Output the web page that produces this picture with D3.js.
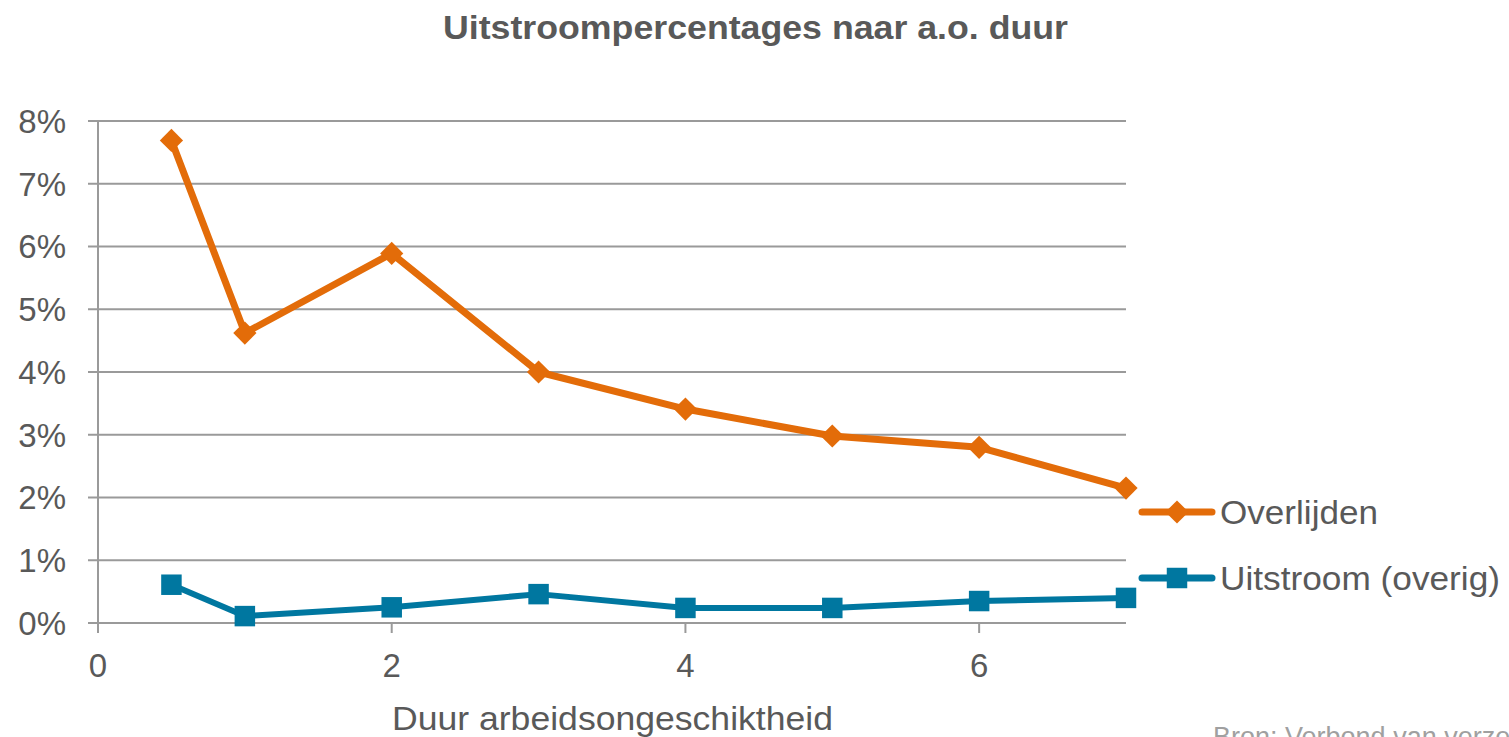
<!DOCTYPE html>
<html><head><meta charset="utf-8">
<script src="https://cdn.jsdelivr.net/npm/d3@7"></script>
<style>body{margin:0;background:#fff;overflow:hidden}svg{display:block}text{font-family:"Liberation Sans",Arial,sans-serif}</style>
</head><body>
<script>
const xValues = [0.5, 1, 2, 3, 4, 5, 6, 7];
const overlijden = [7.69, 4.62, 5.89, 4.0, 3.41, 2.98, 2.80, 2.15];
const uitstroom = [0.61, 0.11, 0.25, 0.46, 0.24, 0.24, 0.35, 0.40];
const yTicks = [0, 1, 2, 3, 4, 5, 6, 7, 8];
const xTicks = [0, 2, 4, 6];
const seriesNames = ["Overlijden", "Uitstroom (overig)"];
const title = "Uitstroompercentages naar a.o. duur";
const xTitle = "Duur arbeidsongeschiktheid";
const source = "Bron: Verbond van verzekeraars";

const W = 1509, H = 737;
const svg = d3.select("body").append("svg").attr("width", W).attr("height", H);
const x = d3.scaleLinear().domain([0, 7]).range([98, 1126]);
const y = d3.scaleLinear().domain([0, 8]).range([623, 121]);
const grid = "#9a9a9a", txt = "#595959";
const orange = "#e36c09", blue = "#0077a0";

svg.append("g").selectAll("line").data(yTicks).join("line")
  .attr("x1", 88).attr("x2", x(7)).attr("y1", d => y(d)).attr("y2", d => y(d))
  .attr("stroke", grid).attr("stroke-width", 2);
svg.append("line").attr("x1", x(0)).attr("x2", x(0)).attr("y1", y(8)).attr("y2", 633)
  .attr("stroke", grid).attr("stroke-width", 2);
svg.append("g").selectAll("line").data(xTicks).join("line")
  .attr("x1", d => x(d)).attr("x2", d => x(d)).attr("y1", y(0)).attr("y2", 633)
  .attr("stroke", grid).attr("stroke-width", 2);
svg.append("g").selectAll("text").data(yTicks).join("text")
  .attr("x", 66).attr("y", d => y(d)).attr("dy", "0.36em").attr("text-anchor", "end")
  .attr("font-size", 33).attr("fill", txt).text(d => d + "%");
svg.append("g").selectAll("text").data(xTicks).join("text")
  .attr("x", d => x(d)).attr("y", 677).attr("text-anchor", "middle")
  .attr("font-size", 33).attr("fill", txt).text(d => d);

const line = d3.line().x((d, i) => x(xValues[i])).y(d => y(d));
function marker(sel, shape) {
  if (shape === "diamond") {
    sel.attr("d", d3.symbol().type(d3.symbolSquare).size(270)());
    return 45;
  }
  sel.attr("d", d3.symbol().type(d3.symbolSquare).size(420)());
  return 0;
}
function drawSeries(vals, color, shape, width) {
  svg.append("path").datum(vals).attr("d", line).attr("fill", "none")
    .attr("stroke", color).attr("stroke-width", width).attr("stroke-linejoin", "round");
  svg.append("g").selectAll("path").data(vals).join("path")
    .each(function (d, i) {
      const rot = marker(d3.select(this), shape);
      d3.select(this).attr("transform", `translate(${x(xValues[i])},${y(d)}) rotate(${rot})`);
    })
    .attr("fill", color);
}
drawSeries(uitstroom, blue, "square", 6);
drawSeries(overlijden, orange, "diamond", 7);

const legY = [512, 578];
const legColors = [orange, blue];
const legShapes = ["diamond", "square"];
const legWidths = [158, 280];
seriesNames.forEach((n, i) => {
  svg.append("line").attr("x1", 1142).attr("x2", 1212).attr("y1", legY[i]).attr("y2", legY[i])
    .attr("stroke", legColors[i]).attr("stroke-width", 7).attr("stroke-linecap", "round");
  const m = svg.append("path").attr("fill", legColors[i]);
  const rot = marker(m, legShapes[i]);
  m.attr("transform", `translate(1177,${legY[i]}) rotate(${rot})`);
  svg.append("text").attr("x", 1220).attr("y", legY[i]).attr("dy", "0.36em")
    .attr("font-size", 33).attr("fill", txt)
    .attr("textLength", legWidths[i]).attr("lengthAdjust", "spacingAndGlyphs").text(n);
});

svg.append("text").attr("x", 443).attr("y", 39)
  .attr("font-size", 34).attr("font-weight", "bold").attr("fill", txt)
  .attr("textLength", 625).attr("lengthAdjust", "spacingAndGlyphs").text(title);
svg.append("text").attr("x", 392).attr("y", 730)
  .attr("font-size", 33).attr("fill", txt)
  .attr("textLength", 441).attr("lengthAdjust", "spacingAndGlyphs").text(xTitle);
svg.append("text").attr("x", 1213).attr("y", 746).attr("font-size", 27)
  .attr("fill", "#a0a0a0").text(source);
</script>
</body></html>
